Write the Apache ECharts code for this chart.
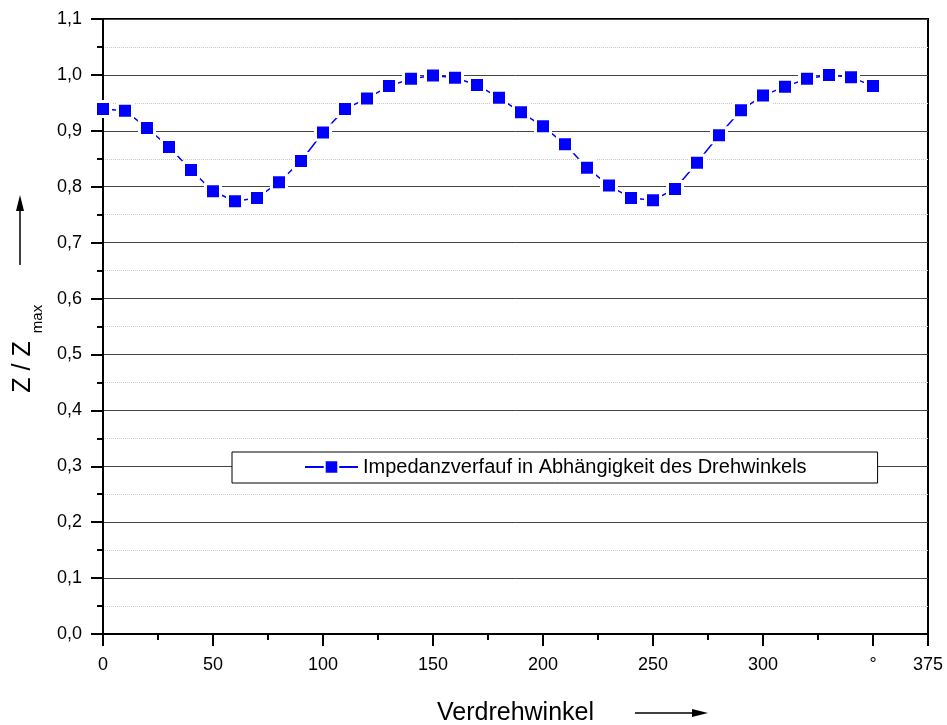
<!DOCTYPE html>
<html>
<head>
<meta charset="utf-8">
<script src="https://cdn.jsdelivr.net/npm/echarts@6/dist/echarts.min.js"></script>
<style>
html, body {margin: 0; padding: 0; background: #fff;}
#chart {width: 947px; height: 725px;}
</style>
</head>
<body>
<div id="chart"></div>
<script>
// Verdrehwinkel in Grad
var angles = [0, 10, 20, 30, 40, 50, 60, 70, 80, 90, 100, 110, 120, 130, 140, 150, 160, 170,
    180, 190, 200, 210, 220, 230, 240, 250, 260, 270, 280, 290, 300, 310, 320, 330, 340, 350];
// Z / Zmax
var impedance = [0.939, 0.936, 0.905, 0.871, 0.830, 0.792, 0.774, 0.780, 0.808, 0.846, 0.897, 0.939,
    0.958, 0.980, 0.993, 0.999, 0.995, 0.982, 0.959, 0.933, 0.908, 0.876, 0.834, 0.802,
    0.780, 0.776, 0.796, 0.843, 0.892, 0.937, 0.963, 0.979, 0.993, 1.000, 0.996, 0.980];
var seriesName = 'Impedanzverfauf in Abhängigkeit des Drehwinkels';
var xLabels = {0: '0', 50: '50', 100: '100', 150: '150', 200: '200', 250: '250', 300: '300', 350: '°', 375: '375'};

var font = "'Liberation Sans', Arial, sans-serif";
var black = '#000';

var points = [];
for (var i = 0; i < angles.length; i++) {
    points.push([angles[i], impedance[i]]);
}

var myChart = echarts.init(document.getElementById('chart'));
var option = {
    animation: false,
    backgroundColor: '#fff',
    textStyle: {fontFamily: font},
    grid: {
        left: 103, right: 19, top: 19, bottom: 91,
        outerBoundsMode: 'none',
        show: true, borderColor: black, borderWidth: 2, backgroundColor: 'transparent'
    },
    legend: {
        left: 232, top: 452,
        itemWidth: 53, itemHeight: 17, itemGap: 8,
        padding: [5, 71, 6, 72],
        backgroundColor: '#fff', borderColor: black, borderWidth: 1,
        textStyle: {fontSize: 20, color: black, fontFamily: font},
        data: [seriesName]
    },
    xAxis: [{
        // kleine Striche alle 25, Beschriftung
        type: 'value', min: 0, max: 375, interval: 25, position: 'bottom',
        name: 'Verdrehwinkel', nameLocation: 'middle', nameGap: 67,
        nameTextStyle: {fontSize: 25, color: black, fontFamily: font},
        axisLine: {lineStyle: {color: black, width: 2}},
        axisTick: {length: 6, lineStyle: {color: black, width: 2}},
        axisLabel: {
            margin: 22, fontSize: 18, color: black, fontFamily: font,
            formatter: function (v) {
                return xLabels[v] !== undefined ? xLabels[v] : '';
            }
        },
        splitLine: {show: false}
    }, {
        // große Striche alle 50
        type: 'value', min: 0, max: 375, interval: 50, position: 'bottom',
        axisLine: {show: false},
        axisTick: {length: 12, lineStyle: {color: black, width: 2}},
        axisLabel: {show: false},
        splitLine: {show: false}
    }],
    yAxis: {
        type: 'value', min: 0, max: 1.1, interval: 0.1,
        axisLine: {lineStyle: {color: black, width: 2}},
        axisTick: {length: 12, lineStyle: {color: black, width: 2}},
        minorTick: {show: true, splitNumber: 2, length: 6, lineStyle: {color: black, width: 2}},
        axisLabel: {
            margin: 21, fontSize: 18, color: black, fontFamily: font,
            formatter: function (v) {
                return v.toFixed(1).replace('.', ',');
            }
        },
        splitLine: {show: true, lineStyle: {color: '#444', width: 1}},
        minorSplitLine: {show: true, lineStyle: {color: '#c8c8c8', width: 1, type: 'dotted'}}
    },
    series: [{
        name: seriesName,
        type: 'line',
        xAxisIndex: 0,
        data: points,
        symbol: 'rect',
        symbolSize: 15,
        z: 5,
        itemStyle: {color: '#0000ff', borderColor: '#fff', borderWidth: 3},
        lineStyle: {color: '#0000ff', width: 1.5}
    }],
    graphic: [
        // Achsentitel Y
        {type: 'text', x: 23, y: 367, rotation: Math.PI / 2,
            style: {text: 'Z / Z', font: '25px ' + font, fill: black, align: 'center', verticalAlign: 'middle'}},
        {type: 'text', x: 38, y: 319, rotation: Math.PI / 2,
            style: {text: 'max', font: '15px ' + font, fill: black, align: 'center', verticalAlign: 'middle'}},
        // Pfeil nach oben
        {type: 'line', shape: {x1: 20, y1: 265, x2: 20, y2: 205}, style: {stroke: black, lineWidth: 1.5}},
        {type: 'polygon', shape: {points: [[20, 195], [16, 211], [24, 211]]}, style: {fill: black}},
        // Pfeil nach rechts
        {type: 'line', shape: {x1: 635, y1: 713, x2: 698, y2: 713}, style: {stroke: black, lineWidth: 1.5}},
        {type: 'polygon', shape: {points: [[708, 713], [692, 709], [692, 717]]}, style: {fill: black}}
    ]
};
myChart.setOption(option);
</script>
</body>
</html>
